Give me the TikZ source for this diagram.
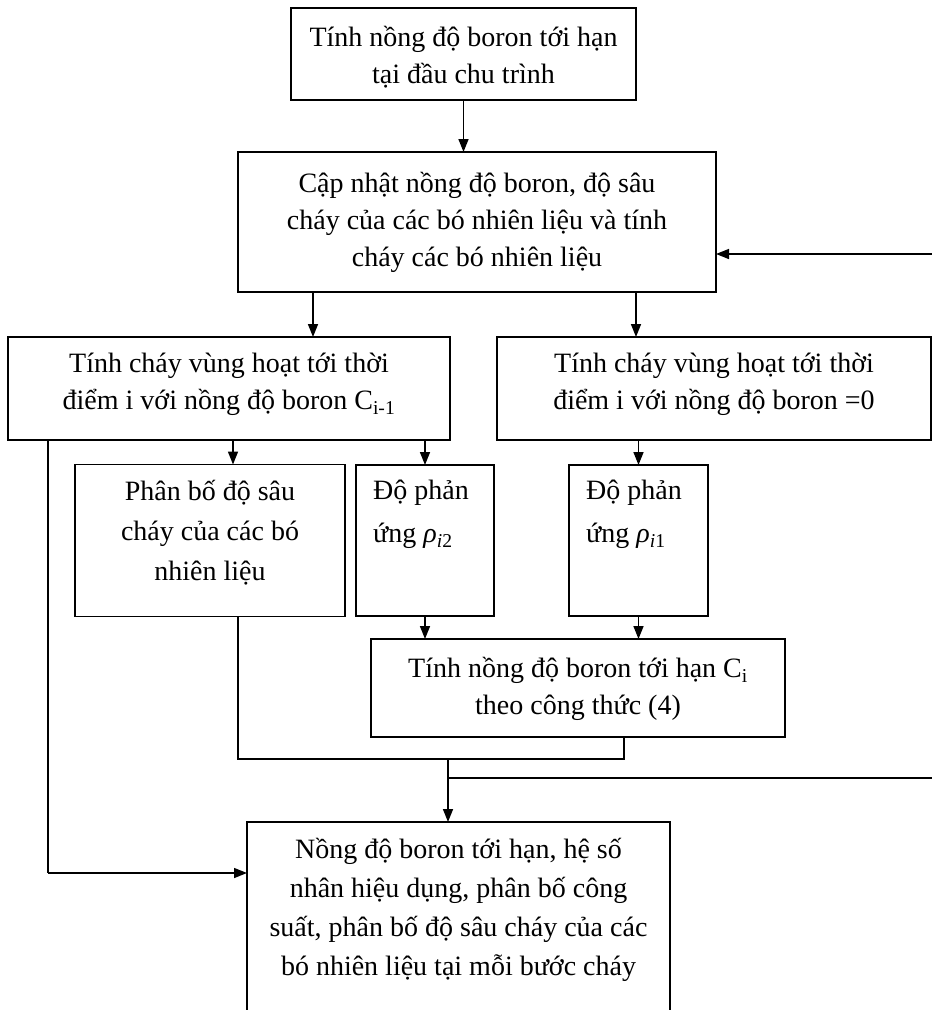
\documentclass[tikz,border=0pt]{standalone}
\usepackage{fontspec}
\setmainfont{Liberation Serif}
\usetikzlibrary{arrows.meta}
\begin{document}
\begin{tikzpicture}[x=1pt,y=-1pt,
  box/.style={draw, line width=1.5pt, inner sep=0pt, outer sep=0pt},
  txt/.style={align=center, inner sep=0pt, font=\fontsize{28}{37}\selectfont},
  txtl/.style={align=left, inner sep=0pt, font=\fontsize{28}{43}\selectfont},
  arr/.style={line width=1.5pt, -{Triangle[length=13pt,width=10pt]}},
  ln/.style={line width=1.5pt}]
\useasboundingbox (0,0) rectangle (932,1010);
\clip (0,0) rectangle (932,1010);

% boxes
\node[box, minimum width=345pt, minimum height=92pt] (top) at (463.5,54) {};
\node[txt] at ([yshift=-3pt]top.center) {Tính nồng độ boron tới hạn\\tại đầu chu trình};

\node[box, minimum width=478pt, minimum height=140pt] (upd) at (477,222) {};
\node[txt] at (upd.center) {Cập nhật nồng độ boron, độ sâu\\cháy của các bó nhiên liệu và tính\\cháy các bó nhiên liệu};

\node[box, minimum width=442pt, minimum height=103pt] (L) at (229,388.5) {};
\node[txt] at ([yshift=4pt]L.center) {Tính cháy vùng hoạt tới thời\\điểm i với nồng độ boron C\textsubscript{i-1}};

\node[box, minimum width=434pt, minimum height=103pt] (R) at (714,388.5) {};
\node[txt] at ([yshift=4pt]R.center) {Tính cháy vùng hoạt tới thời\\điểm i với nồng độ boron =0};

\node[box, minimum width=270pt, minimum height=152pt] (pb) at (210,540.5) {};
\node[txt, font=\fontsize{28}{40}\selectfont] at ([yshift=8pt]pb.center) {Phân bố độ sâu\\cháy của các bó\\nhiên liệu};

\node[box, minimum width=138pt, minimum height=151pt] (r2) at (425,540.5) {};
\node[txtl, anchor=north west] at (373,480) {Độ phản\\ứng \textit{ρ}\textsubscript{\textit{i}2}};

\node[box, minimum width=139pt, minimum height=151pt] (r1) at (638.5,540.5) {};
\node[txtl, anchor=north west] at (586,480) {Độ phản\\ứng \textit{ρ}\textsubscript{\textit{i}1}};

\node[box, minimum width=414pt, minimum height=98pt] (ci) at (578,688) {};
\node[txt] at ([yshift=-1pt]ci.center) {Tính nồng độ boron tới hạn C\textsubscript{i}\\theo công thức (4)};

\node[box, minimum width=423pt, minimum height=240pt, anchor=north west] (bot) at (247,822) {};
\node[txt, font=\fontsize{28}{39}\selectfont, anchor=north] at (458.5,838) {Nồng độ boron tới hạn, hệ số\\nhân hiệu dụng, phân bố công\\suất, phân bố độ sâu cháy của các\\bó nhiên liệu tại mỗi bước cháy};

% named helper coordinates
\coordinate (rin) at (932,254);
\coordinate (rout) at (932,778);
\coordinate (j1) at (238,759);
\coordinate (j2) at (624,759);
\coordinate (j3) at (448,759);
\coordinate (j4) at (448,778);
\coordinate (lc) at (48,873);

% connectors
\draw[arr] (top.south) -- (top.south |- upd.north);
\draw[arr] (rin) -- (rin -| upd.east);
\draw[arr] ([xshift=75pt]upd.south west) -- ([xshift=75pt]upd.south west |- L.north);
\draw[arr] ([xshift=398pt]upd.south west) -- ([xshift=398pt]upd.south west |- R.north);
\draw[arr] ([xshift=225pt]L.south west) -- ([xshift=225pt]L.south west |- pb.north);
\draw[arr] (r2.north |- L.south) -- (r2.north);
\draw[arr] (r1.north |- R.south) -- (r1.north);
\draw[arr] (r2.south) -- (r2.south |- ci.north);
\draw[arr] (r1.south) -- (r1.south |- ci.north);
\draw[ln] (j1 |- pb.south) -- (j1) -- (j2) -- (j2 |- ci.south);
\draw[arr] (j3) -- (j3 |- bot.north);
\draw[ln] (j4) -- (rout);
\draw[ln] (lc |- L.south) -- (lc);
\draw[arr] (lc) -- (lc -| bot.west);
\end{tikzpicture}
\end{document}
